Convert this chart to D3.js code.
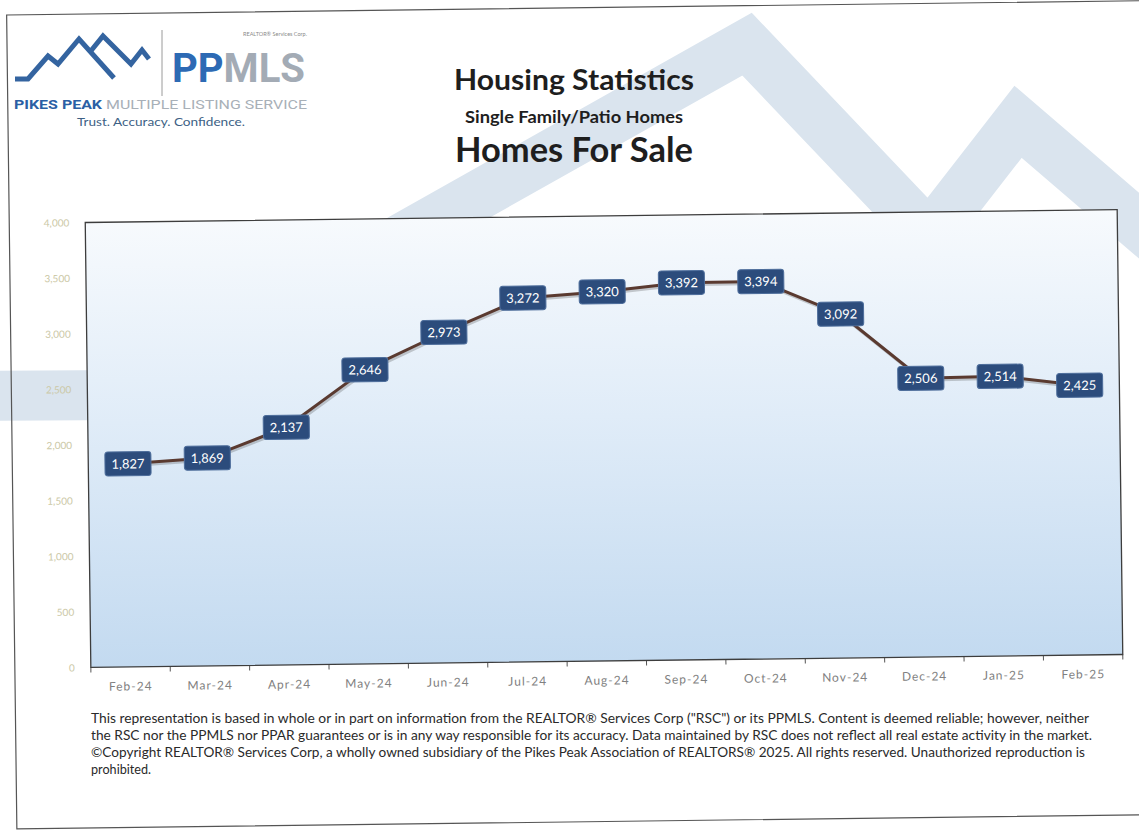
<!DOCTYPE html>
<html>
<head>
<meta charset="utf-8">
<style>
    body { margin: 0; background: #fff; }
    svg text { font-family: Lato, "Open Sans", sans-serif; }
</style>
</head>
<body>
<svg id="chart" width="1139" height="834"></svg>
<script src="https://d3js.org/d3.v7.min.js"></script>
<script>
    // data
    const months = ["Feb-24", "Mar-24", "Apr-24", "May-24", "Jun-24", "Jul-24", "Aug-24",
                    "Sep-24", "Oct-24", "Nov-24", "Dec-24", "Jan-25", "Feb-25"]
    const homesForSale = [1827, 1869, 2137, 2646, 2973, 3272, 3320, 3392, 3394, 3092, 2506, 2514, 2425]
    const yTicks = [0, 500, 1000, 1500, 2000, 2500, 3000, 3500, 4000]
    const disclaimer = [
        "This representation is based in whole or in part on information from the REALTOR\u00ae Services Corp (\"RSC\") or its PPMLS. Content is deemed reliable; however, neither",
        "the RSC nor the PPMLS nor PPAR guarantees or is in any way responsible for its accuracy. Data maintained by RSC does not reflect all real estate activity in the market.",
        "\u00a9Copyright REALTOR\u00ae Services Corp, a wholly owned subsidiary of the Pikes Peak Association of REALTORS\u00ae 2025. All rights reserved. Unauthorized reproduction is",
        "prohibited."
    ]
    const disclaimerWidths = [998, 1001, 994, 60]

    let data = months.map((m, i) => ({ month: m, value: homesForSale[i] }))

    let svg = d3.select("#chart")
    // the scan is slightly tilted: frame, watermark and chart sit in a rotated group
    let page = svg.append("g").attr("transform", "rotate(-0.72,604,438)")

    let plotLeft = 88, plotRight = 1120, plotTop = 216, plotBottom = 661

    // watermark mountains behind everything
    page.append("path")
        .attr("d", d3.line()([[-40, 388], [124, 389], [752, 46], [932, 240], [1022, 127], [1190, 275]]))
        .attr("fill", "none")
        .attr("stroke", "#dae4ee")
        .attr("stroke-width", 50)
        .attr("stroke-linejoin", "miter")

    // outer frame
    page.append("rect")
        .attr("x", 12).attr("y", 7.5).attr("width", 1150).attr("height", 814)
        .attr("fill", "none").attr("stroke", "#555").attr("stroke-width", 1.2)

    // plot background
    let grad = svg.append("defs").append("linearGradient")
        .attr("id", "plotFill").attr("x1", 0).attr("x2", 0).attr("y1", 0).attr("y2", 1)
    grad.append("stop").attr("offset", "0%").attr("stop-color", "#f7fafd")
    grad.append("stop").attr("offset", "45%").attr("stop-color", "#e0ecf8")
    grad.append("stop").attr("offset", "100%").attr("stop-color", "#c3daf0")

    page.append("rect")
        .attr("x", plotLeft).attr("y", plotTop)
        .attr("width", plotRight - plotLeft).attr("height", plotBottom - plotTop)
        .attr("fill", "url(#plotFill)")

    // scales
    let xScale = d3.scaleBand().domain(months).range([plotLeft, plotRight])
    let yScale = d3.scaleLinear().domain([0, 4000]).range([plotBottom, plotTop])
    let cx = d => xScale(d.month) + xScale.bandwidth() / 2

    // y axis labels
    let yAxis = page.append("g")
        .attr("transform", "translate(" + plotLeft + ",0)")
        .call(d3.axisLeft(yScale).tickValues(yTicks).tickSize(0).tickPadding(16)
            .tickFormat(d3.format(",")))
    yAxis.select(".domain").remove()
    yAxis.selectAll("text")
        .attr("fill", "#cbc8a6").attr("font-size", 10)
        .style("font-family", "Lato, sans-serif")

    // x axis labels
    let xAxis = page.append("g")
        .attr("transform", "translate(0," + plotBottom + ")")
        .call(d3.axisBottom(xScale).tickSize(0).tickPadding(15))
    xAxis.select(".domain").remove()
    xAxis.selectAll("text")
        .attr("fill", "#808080").attr("font-size", 12)
        .attr("letter-spacing", 1)
        .style("font-family", "Lato, sans-serif")

    // category boundary ticks
    let bounds = months.map(m => xScale(m)).concat([plotRight])
    page.selectAll(".xtick").data(bounds).join("line")
        .attr("class", "xtick")
        .attr("x1", d => d).attr("x2", d => d)
        .attr("y1", plotBottom).attr("y2", plotBottom + 5)
        .attr("stroke", "#555").attr("stroke-width", 1)

    // plot border
    page.append("rect")
        .attr("x", plotLeft).attr("y", plotTop)
        .attr("width", plotRight - plotLeft).attr("height", plotBottom - plotTop)
        .attr("fill", "none").attr("stroke", "#3d3d3d").attr("stroke-width", 1.3)

    // the line, with a soft shadow
    let valueLine = d3.line().x(cx).y(d => yScale(d.value))
    page.append("path").datum(data)
        .attr("d", valueLine)
        .attr("transform", "translate(1.5,2)")
        .attr("fill", "none").attr("stroke", "rgba(60,60,60,0.25)").attr("stroke-width", 3)
    page.append("path").datum(data)
        .attr("d", valueLine)
        .attr("fill", "none").attr("stroke", "#5a3a30").attr("stroke-width", 3)
        .attr("stroke-linejoin", "round")

    // data labels
    let labels = page.selectAll(".lbl").data(data).join("g")
        .attr("class", "lbl")
        .attr("transform", d => "translate(" + cx(d) + "," + yScale(d.value) + ")")
    labels.append("rect")
        .attr("x", -23).attr("y", -12).attr("width", 46).attr("height", 24).attr("rx", 3)
        .attr("fill", "#2c4c7c").attr("stroke", "#4d6d9b").attr("stroke-width", 1)
    labels.append("text")
        .attr("text-anchor", "middle").attr("dy", "0.36em")
        .attr("font-size", 13).attr("fill", "#fff")
        .text(d => d3.format(",")(d.value))

    // logo (kept level, placed where the scan shows it)
    let logo = svg.append("g")
    let icon = d3.line()
    logo.append("path").attr("d", icon([[15, 79], [28, 79], [48, 56], [58, 64], [79, 39], [114, 78]]))
        .attr("fill", "none").attr("stroke", "#3464a0").attr("stroke-width", 5).attr("stroke-linejoin", "miter")
    logo.append("path").attr("d", icon([[90, 52], [103, 36], [131, 64], [142, 50], [149, 59]]))
        .attr("fill", "none").attr("stroke", "#3464a0").attr("stroke-width", 5).attr("stroke-linejoin", "miter")
    logo.append("line").attr("x1", 162).attr("x2", 162).attr("y1", 30).attr("y2", 96)
        .attr("stroke", "#9a9a9a").attr("stroke-width", 1)
    logo.append("text").attr("x", 307).attr("y", 36).attr("text-anchor", "end")
        .attr("font-size", 5.5).attr("fill", "#8a8a8a").text("REALTOR\u00ae Services Corp.")
    let pp = logo.append("text").attr("x", 172).attr("y", 82)
        .attr("font-size", 40).attr("font-weight", 700)
        .style("font-family", "Roboto, sans-serif")
        .attr("textLength", 133).attr("lengthAdjust", "spacingAndGlyphs")
    pp.append("tspan").attr("fill", "#2d6ab4").text("PP")
    pp.append("tspan").attr("fill", "#a3abb5").text("MLS")
    let pk = logo.append("text").attr("x", 14).attr("y", 109)
        .attr("font-size", 13)
        .style("font-family", "Roboto, sans-serif")
        .attr("textLength", 293).attr("lengthAdjust", "spacingAndGlyphs")
    pk.append("tspan").attr("fill", "#2a5fa5").attr("font-weight", 700).text("PIKES PEAK ")
    pk.append("tspan").attr("fill", "#a8b0b8").text("MULTIPLE LISTING SERVICE")
    logo.append("text").attr("x", 161).attr("y", 126).attr("text-anchor", "middle")
        .attr("font-size", 11).attr("fill", "#3d5f85")
        .attr("textLength", 168).attr("lengthAdjust", "spacingAndGlyphs")
        .text("Trust. Accuracy. Confidence.")

    // titles
    let titles = [
        { text: "Housing Statistics", y: 90, size: 29, width: 240 },
        { text: "Single Family/Patio Homes", y: 122.5, size: 17, width: 218 },
        { text: "Homes For Sale", y: 162, size: 34, width: 238 }
    ]
    svg.selectAll(".title").data(titles).join("text")
        .attr("class", "title")
        .attr("x", 574).attr("y", d => d.y)
        .attr("text-anchor", "middle")
        .attr("font-size", d => d.size).attr("font-weight", 700)
        .attr("fill", "#1e1e1e")
        .attr("textLength", d => d.width).attr("lengthAdjust", "spacingAndGlyphs")
        .text(d => d.text)

    // disclaimer
    svg.selectAll(".note").data(disclaimer).join("text")
        .attr("class", "note")
        .attr("x", 91).attr("y", (d, i) => 723 + i * 17)
        .attr("font-size", 13).attr("fill", "#2a2a2a")
        .attr("textLength", (d, i) => disclaimerWidths[i]).attr("lengthAdjust", "spacingAndGlyphs")
        .text(d => d)
</script>
</body>
</html>
